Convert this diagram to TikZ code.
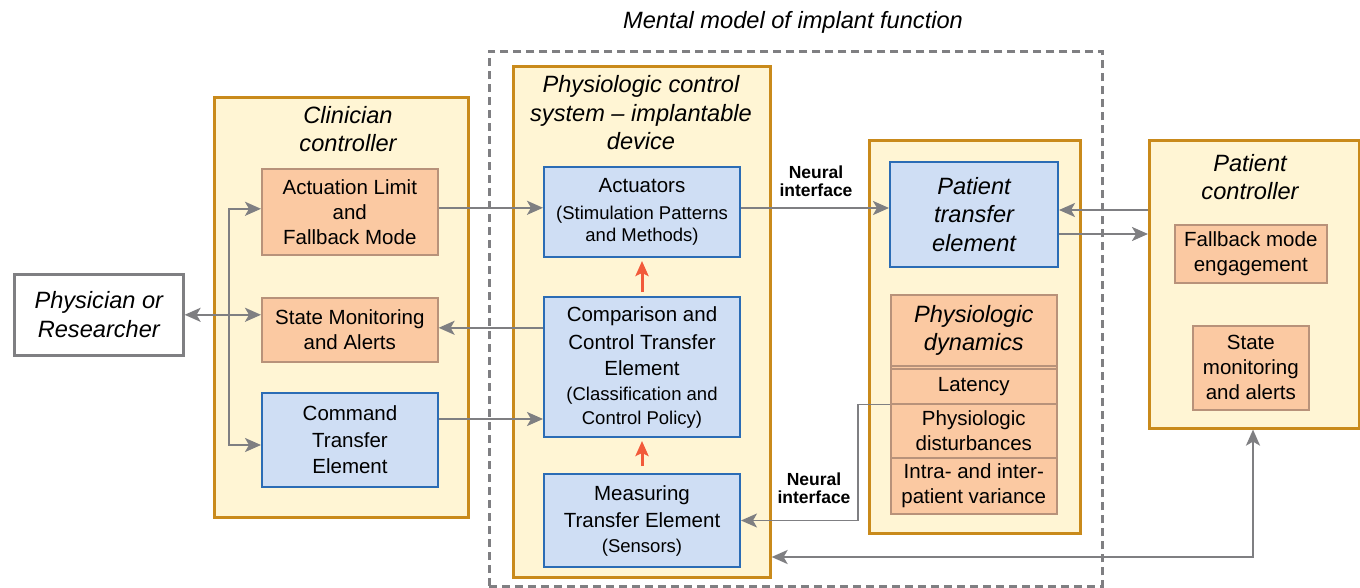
\documentclass[tikz,border=0pt]{standalone}
\usepackage{fontspec}
\setmainfont{Liberation Sans}
\usetikzlibrary{arrows.meta,calc}
\definecolor{cream}{HTML}{FFF5D4}
\definecolor{gold}{HTML}{C98A1B}
\definecolor{peach}{HTML}{FBC9A2}
\definecolor{peachline}{HTML}{B8927A}
\definecolor{lblue}{HTML}{CFDEF4}
\definecolor{bline}{HTML}{2B6CB5}
\definecolor{arrgray}{HTML}{7F7F82}
\definecolor{redarr}{HTML}{F25A3A}
\newcommand{\fmain}{\fontsize{20.5}{25}\selectfont}
\newcommand{\fsub}{\fontsize{18.5}{22}\selectfont}
\newcommand{\ftitle}{\fontsize{23.6}{28.5}\selectfont\itshape}
\newcommand{\fneural}{\fontsize{17.5}{18.5}\selectfont\bfseries}
\begin{document}
\begin{tikzpicture}[x=1pt,y=-1pt,
  every node/.style={inner sep=0pt, align=center},
  cont/.style={rectangle, draw=gold, line width=2.6pt, fill=cream, anchor=north west},
  obox/.style={rectangle, draw=peachline, line width=1.6pt, fill=peach, anchor=north west, font=\fmain},
  bbox/.style={rectangle, draw=bline, line width=2pt, fill=lblue, anchor=north west, font=\fmain},
  gbox/.style={rectangle, draw=arrgray, line width=2.6pt, fill=white, anchor=north west, font=\ftitle},
  ttl/.style={font=\ftitle},
  nlabel/.style={font=\fneural},
  conn/.style={draw=arrgray, line width=2.2pt, -{Stealth[length=16pt,width=14pt,inset=4pt]}},
  bconn/.style={draw=arrgray, line width=2.2pt, {Stealth[length=16pt,width=14pt,inset=4pt]}-{Stealth[length=16pt,width=14pt,inset=4pt]}},
  redconn/.style={draw=redarr, line width=3pt, -{Stealth[length=15pt,width=13pt,inset=3pt]}}
]
\useasboundingbox (0,0) rectangle (1360,588);

% outer dashed region
\node[rectangle, draw=arrgray, line width=2.6pt, dash pattern=on 8pt off 5pt, minimum width=613pt, minimum height=535pt, anchor=north west] (mental) at (488,50) {};
\node[ttl] (mentalT) at (793,22) {Mental model of implant function};

% Physician
\node[gbox, minimum width=169pt, minimum height=81pt] (phys) at (13,273) {Physician or\\Researcher};

% Clinician controller
\node[cont, minimum width=254pt, minimum height=420pt] (clin) at (213,96) {};
\node[ttl] (clinT) at (348,129) {Clinician\\controller};
\node[obox, minimum width=176pt, minimum height=86pt] (act) at (261,168) {Actuation Limit\\and\\Fallback Mode};
\node[obox, minimum width=176pt, minimum height=64pt] (smon) at (261,297) {State Monitoring\\and Alerts};
\node[bbox, minimum width=176pt, minimum height=94pt, font=\fontsize{20.5}{26.5}\selectfont] (cmd) at (261,392) {Command\\Transfer\\Element};

% Physiologic control system
\node[cont, minimum width=257pt, minimum height=511pt] (pcs) at (512,65) {};
\node[ttl] (pcsT) at (641,113) {Physiologic control\\system -- implantable\\device};
\node[bbox, minimum width=196pt, minimum height=90pt] (actu) at (543,166) {Actuators\\[2pt]{\fsub (Stimulation Patterns}\\[-3pt]{\fsub and Methods)}};
\node[bbox, minimum width=196pt, minimum height=140pt, font=\fontsize{20.5}{26}\selectfont] (comp) at (543,296) {Comparison and\\[2pt]Control Transfer\\Element\\[-1pt]{\fsub (Classification and}\\[-2pt]{\fsub Control Policy)}};
\node[bbox, minimum width=196pt, minimum height=93pt] (meas) at (543,473) {Measuring\\[2pt]Transfer Element\\{\fsub (Sensors)}};

% Patient side
\node[cont, minimum width=211pt, minimum height=393pt] (pat) at (868,139) {};
\node[bbox, minimum width=168pt, minimum height=105pt, font=\ftitle] (ptr) at (889,161) {Patient\\transfer\\element};
\node[obox, minimum width=166pt, minimum height=219pt] (dyn) at (890,294) {};
\node[obox, minimum width=166pt, minimum height=71pt, font=\ftitle] (dynT) at (890,294) {Physiologic\\dynamics};
\node[obox, minimum width=166pt, minimum height=35pt] (lat) at (890,368) {Latency};
\node[obox, minimum width=166pt, minimum height=54pt] (dist) at (890,403) {Physiologic\\disturbances};
\node[obox, minimum width=166pt, minimum height=56pt] (var) at (890,457) {Intra- and inter-\\patient variance};

% Patient controller
\node[cont, minimum width=210pt, minimum height=288pt] (pctl) at (1148,139) {};
\node[ttl] (pctlT) at (1250,177) {Patient\\controller};
\node[obox, minimum width=152pt, minimum height=58pt] (fb) at (1174,224) {Fallback mode\\engagement};
\node[obox, minimum width=116pt, minimum height=84pt] (sma) at (1192,325) {State\\monitoring\\and alerts};

% Neural interface labels
\node[nlabel] (ni1) at (816,181) {Neural\\interface};
\node[nlabel] (ni2) at (814,488) {Neural\\interface};

% connectors: clinician side
\coordinate (busx) at (229,0);
\draw[bconn] (phys.east) -- (phys.east -| smon.west);
\draw[conn] (busx |- phys.east) |- ([yshift=3pt]act.west);
\draw[conn] (busx |- phys.east) |- ([yshift=-5pt]cmd.west);
\draw[conn] ([yshift=4pt]act.east) -- ([yshift=4pt]act.east -| actu.west);
\draw[conn] ([yshift=2pt]smon.east -| comp.west) -- ([yshift=2pt]smon.east);
\draw[conn] ([yshift=21pt]cmd.east) -- ([yshift=21pt]cmd.east -| comp.west);

% internal red arrows
\draw[redconn] ([yshift=4pt]comp.north) -- ([yshift=-3pt]actu.south);
\draw[redconn] ([yshift=7pt]meas.north) -- ([yshift=-3pt]comp.south);

% neural interface connectors
\draw[conn] ([yshift=4pt]actu.east) -- ([yshift=4pt]actu.east -| ptr.west);
\coordinate (fbx) at (858,0);
\draw[conn, line width=1.6pt] (lat.south west) -- (lat.south west -| fbx) |- (meas.east);

% patient controller connectors
\coordinate (p1) at ($(ptr.east)+(0,-4.5)$);
\coordinate (p2) at ($(ptr.east)+(0,19.5)$);
\draw[conn] (p1 -| pctl.west) -- (p1);
\draw[conn] (p2) -- (p2 -| pctl.west);
\coordinate (bot) at (1253,557);
\draw[bconn] (pcs.east |- bot) -- (bot) -- (bot |- pctl.south);
\end{tikzpicture}
\end{document}
